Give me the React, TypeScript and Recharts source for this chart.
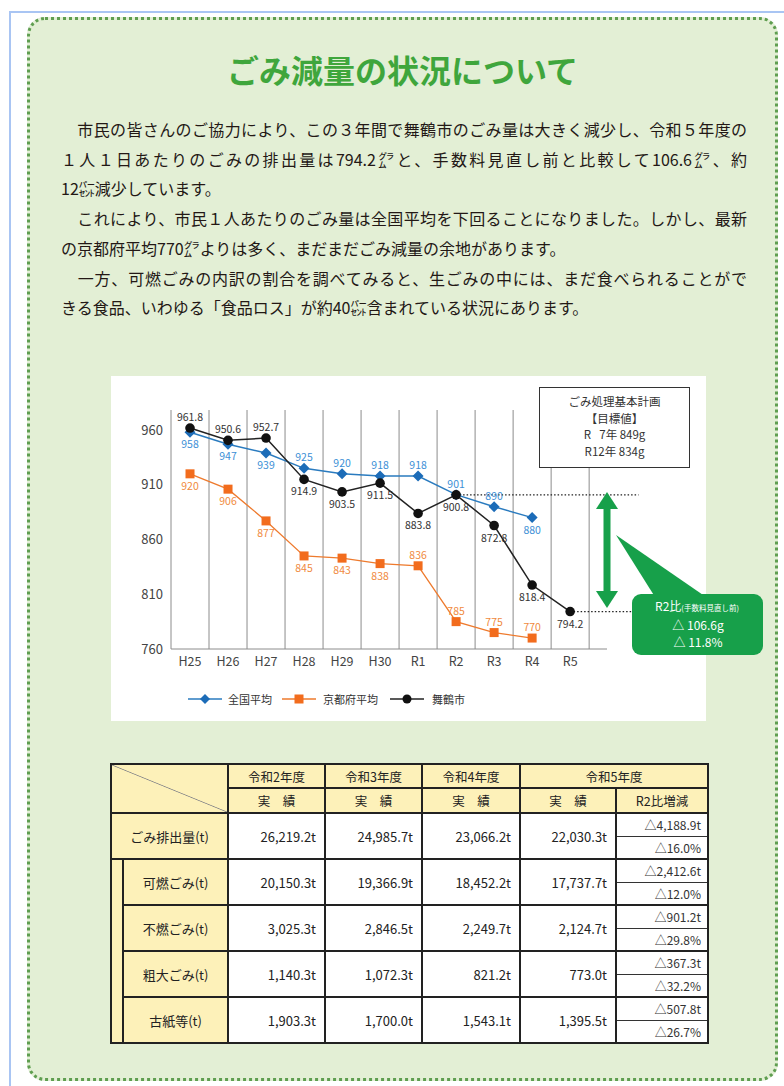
import React from 'react';
import { LineChart, Line, XAxis, YAxis, ReferenceLine, LabelList } from 'recharts';

// ---------- chart data ----------
const categories = ['H25', 'H26', 'H27', 'H28', 'H29', 'H30', 'R1', 'R2', 'R3', 'R4', 'R5'];
const nationalAvg = [958, 947, 939, 925, 920, 918, 918, 901, 890, 880, null];
const kyotoAvg = [920, 906, 877, 845, 843, 838, 836, 785, 775, 770, null];
const maizuruCity = [961.8, 950.6, 952.7, 914.9, 903.5, 911.5, 883.8, 900.8, 872.8, 818.4, 794.2];
const yTicks = [760, 810, 860, 910, 960];
const seriesNames = ['全国平均', '京都府平均', '舞鶴市'];

// label placement (a = above, b = below)
const nationalLabelPos = ['b', 'b', 'b', 'a', 'a', 'a', 'a', 'a', 'a', 'b', 'b'];
const kyotoLabelPos = ['b', 'b', 'b', 'b', 'b', 'b', 'a', 'a', 'a', 'a', 'a'];
const maizuruLabelPos = ['a', 'a', 'a', 'b', 'b', 'b', 'b', 'b', 'b', 'b', 'b'];

// target box text
const targetLines = ['ごみ処理基本計画', '【目標値】', 'R\u2002 7年 849g', 'R12年 834g'];
const calloutTitle = 'R2比';
const calloutSub = '(手数料見直し前)';
const calloutLines = ['△ 106.6g', '△ 11.8%'];

// ---------- table data ----------
const yearHeaders = ['令和2年度', '令和3年度', '令和4年度', '令和5年度'];
const rowLabels = ['ごみ排出量(t)', '可燃ごみ(t)', '不燃ごみ(t)', '粗大ごみ(t)', '古紙等(t)'];
const fy2020 = ['26,219.2t', '20,150.3t', '3,025.3t', '1,140.3t', '1,903.3t'];
const fy2021 = ['24,985.7t', '19,366.9t', '2,846.5t', '1,072.3t', '1,700.0t'];
const fy2022 = ['23,066.2t', '18,452.2t', '2,249.7t', '821.2t', '1,543.1t'];
const fy2023 = ['22,030.3t', '17,737.7t', '2,124.7t', '773.0t', '1,395.5t'];
const diffTons = ['△4,188.9t', '△2,412.6t', '△901.2t', '△367.3t', '△507.8t'];
const diffPct = ['△16.0%', '△12.0%', '△29.8%', '△32.2%', '△26.7%'];

// ---------- text ----------
const title = 'ごみ減量の状況について';
const paragraphLines = [
  '\u3000市民の皆さんのご協力により、この３年間で舞鶴市のごみ量は大きく減少し、令和５年度の',
  '１人１日あたりのごみの排出量は794.2㌘と、手数料見直し前と比較して106.6㌘、約',
  '12㌫減少しています。',
  '\u3000これにより、市民１人あたりのごみ量は全国平均を下回ることになりました。しかし、最新',
  'の京都府平均770㌘よりは多く、まだまだごみ減量の余地があります。',
  '\u3000一方、可燃ごみの内訳の割合を調べてみると、生ごみの中には、まだ食べられることがで',
  'きる食品、いわゆる「食品ロス」が約40㌫含まれている状況にあります。',
];
const justifiedLines = [true, true, false, true, false, true, false];

const FONT = "'Noto Sans CJK JP', 'Noto Sans', sans-serif";
const BLUE = '#2a7bbf';
const ORANGE = '#ee7a2d';
const BLACK = '#222222';

const chartData = categories.map((c, i) => ({
  x: i + 0.5,
  name: c,
  national: nationalAvg[i],
  kyoto: kyotoAvg[i],
  maizuru: maizuruCity[i],
}));
const tickXs = categories.map((_, i) => i + 0.5);
const gridXs = [...categories.map((_, i) => i), categories.length];

const makeLabel = (pos: string[], color: string) => (props: any) => {
  const { x, y, value, index } = props;
  if (value == null || x == null || y == null) return null;
  const above = pos[index] === 'a';
  return (
    <text
      key={`l-${index}`}
      x={x}
      y={above ? y - 7 : y + 16}
      textAnchor="middle"
      fontSize={10.5}
      fontFamily={FONT}
      fill={color}
    >
      {String(value)}
    </text>
  );
};

const DiamondDot = (props: any) => {
  const { cx, cy, index } = props;
  if (cx == null || cy == null || props.value == null) return <g key={`d-${index}`} />;
  const s = 5.5;
  return <polygon key={`d-${index}`} points={`${cx},${cy - s} ${cx + s},${cy} ${cx},${cy + s} ${cx - s},${cy}`} fill="#1c6cb8" />;
};
const SquareDot = (props: any) => {
  const { cx, cy, index } = props;
  if (cx == null || cy == null || props.value == null) return <g key={`s-${index}`} />;
  return <rect key={`s-${index}`} x={cx - 4.5} y={cy - 4.5} width={9} height={9} fill="#f26c1d" />;
};
const CircleDot = (props: any) => {
  const { cx, cy, index } = props;
  if (cx == null || cy == null || props.value == null) return <g key={`c-${index}`} />;
  return <circle key={`c-${index}`} cx={cx} cy={cy} r={4.8} fill="#111" />;
};

const th: React.CSSProperties = {
  border: '2px solid #222',
  background: '#fdf1b9',
  fontSize: 12.5,
  fontWeight: 'normal',
  textAlign: 'center',
  padding: 0,
  color: '#222',
};
const tdVal: React.CSSProperties = {
  border: '2px solid #222',
  background: '#fff',
  fontSize: 13,
  textAlign: 'right',
  paddingRight: 8,
  color: '#222',
};
const tdDiff: React.CSSProperties = {
  borderLeft: '2px solid #222',
  borderRight: '2px solid #222',
  background: '#fff',
  fontSize: 12,
  textAlign: 'right',
  paddingRight: 6,
  color: '#333',
};

function DataTable() {
  const rows: React.ReactNode[] = [];
  rowLabels.forEach((label, k) => {
    rows.push(
      <tr key={`a${k}`} style={{ height: 23 }}>
        {k === 0 ? (
          <td colSpan={2} rowSpan={2} style={{ ...th, fontSize: 13 }}>{label}</td>
        ) : (
          <>
            {k === 1 && <td rowSpan={8} style={{ ...th }} />}
            <td rowSpan={2} style={{ ...th, fontSize: 13 }}>{label}</td>
          </>
        )}
        <td rowSpan={2} style={tdVal}>{fy2020[k]}</td>
        <td rowSpan={2} style={tdVal}>{fy2021[k]}</td>
        <td rowSpan={2} style={tdVal}>{fy2022[k]}</td>
        <td rowSpan={2} style={tdVal}>{fy2023[k]}</td>
        <td style={{ ...tdDiff, borderTop: '2px solid #222', borderBottom: '1px solid #333' }}>{diffTons[k]}</td>
      </tr>
    );
    rows.push(
      <tr key={`b${k}`} style={{ height: 23 }}>
        <td style={{ ...tdDiff, borderBottom: '2px solid #222' }}>{diffPct[k]}</td>
      </tr>
    );
  });
  return (
    <table
      style={{
        position: 'absolute',
        left: 110,
        top: 763,
        width: 597,
        borderCollapse: 'collapse',
        tableLayout: 'fixed',
        fontFamily: FONT,
      }}
    >
      <colgroup>
        <col style={{ width: 12 }} />
        <col style={{ width: 105 }} />
        <col style={{ width: 97 }} />
        <col style={{ width: 97 }} />
        <col style={{ width: 98 }} />
        <col style={{ width: 96 }} />
        <col style={{ width: 92 }} />
      </colgroup>
      <tbody>
        <tr style={{ height: 24 }}>
          <td
            colSpan={2}
            rowSpan={2}
            style={{
              ...th,
              background:
                'linear-gradient(to top right, #fdf1b9 calc(50% - 0.8px), #8a8a8a 50%, #fdf1b9 calc(50% + 0.8px))',
            }}
          />
          {yearHeaders.slice(0, 3).map((y) => (
            <td key={y} style={th}>{y}</td>
          ))}
          <td colSpan={2} style={th}>{yearHeaders[3]}</td>
        </tr>
        <tr style={{ height: 25 }}>
          <td style={th}>実　績</td>
          <td style={th}>実　績</td>
          <td style={th}>実　績</td>
          <td style={th}>実　績</td>
          <td style={th}>R2比増減</td>
        </tr>
        {rows}
      </tbody>
    </table>
  );
}

function Legend() {
  const items = [
    { name: seriesNames[0], color: BLUE, left: 188, textLeft: 228, shape: 'diamond' },
    { name: seriesNames[1], color: ORANGE, left: 282, textLeft: 323, shape: 'square' },
    { name: seriesNames[2], color: BLACK, left: 390, textLeft: 432, shape: 'circle' },
  ];
  return (
    <>
      {items.map((it) => (
        <React.Fragment key={it.name}>
          <svg style={{ position: 'absolute', left: it.left, top: 692 }} width={36} height={14}>
            <line x1={0} y1={7} x2={34} y2={7} stroke={it.color} strokeWidth={1.5} />
            {it.shape === 'diamond' && <polygon points="17,2 22,7 17,12 12,7" fill="#1c6cb8" />}
            {it.shape === 'square' && <rect x={12.5} y={2.5} width={9} height={9} fill="#f26c1d" />}
            {it.shape === 'circle' && <circle cx={17} cy={7} r={4.5} fill="#111" />}
          </svg>
          <div
            style={{
              position: 'absolute',
              left: it.textLeft,
              top: 691,
              fontSize: 11,
              lineHeight: '16px',
              color: '#333',
              whiteSpace: 'nowrap',
            }}
          >
            {it.name}
          </div>
        </React.Fragment>
      ))}
    </>
  );
}

export default function App() {
  return (
    <div
      style={{
        position: 'absolute',
        left: 0,
        top: 0,
        width: 784,
        height: 1086,
        overflow: 'hidden',
        background: '#fff',
        fontFamily: FONT,
      }}
    >
      {/* blue frame */}
      <div
        style={{
          position: 'absolute',
          left: 9,
          top: 11,
          width: 800,
          height: 1100,
          border: '2px solid #a9c5f3',
          boxSizing: 'border-box',
        }}
      />
      {/* green panel */}
      <div
        style={{
          position: 'absolute',
          left: 27,
          top: 17,
          width: 751,
          height: 1064,
          border: '3px dotted #5f9e50',
          borderRadius: 18,
          background: '#e3efd5',
          boxSizing: 'border-box',
        }}
      />
      {/* title */}
      <div
        style={{
          position: 'absolute',
          left: 27,
          top: 47,
          width: 751,
          textAlign: 'center',
          fontSize: 32,
          fontWeight: 'bold',
          lineHeight: '44px',
          color: '#3fa63c',
        }}
      >
        {title}
      </div>
      {/* paragraph */}
      {paragraphLines.map((line, i) => (
        <div
          key={i}
          style={{
            position: 'absolute',
            left: 61,
            top: 114 + i * 29.7,
            width: 686,
            fontSize: 16,
            lineHeight: '30px',
            color: '#231815',
            whiteSpace: 'nowrap',
            textAlign: justifiedLines[i] ? 'justify' : 'left',
            textAlignLast: justifiedLines[i] ? 'justify' : 'left',
          }}
        >
          {line}
        </div>
      ))}

      {/* chart white panel */}
      <div style={{ position: 'absolute', left: 111, top: 376, width: 595, height: 345, background: '#fff' }} />

      <div style={{ position: 'absolute', left: 111, top: 375 }}>
        <LineChart width={660} height={346} data={chartData} margin={{ top: 35, right: 7, left: 0, bottom: 42 }}>
          <XAxis
            type="number"
            dataKey="x"
            domain={[0, 15.6]}
            ticks={tickXs}
            tickFormatter={(v: number) => categories[Math.round(v - 0.5)]}
            axisLine={false}
            tickLine={false}
            height={30}
            allowDataOverflow
            interval={0}
            tick={{ fontSize: 12.5, fill: '#444', fontFamily: FONT }}
          />
          <YAxis
            type="number"
            domain={[760, 978.3]}
            ticks={yTicks}
            axisLine={false}
            tickLine={false}
            width={60}
            allowDataOverflow
            interval={0}
            tick={{ fontSize: 13, fill: '#444', fontFamily: FONT }}
          />
          {gridXs.map((g) => (
            <ReferenceLine key={`g${g}`} x={g} stroke="#8c8c8c" strokeWidth={1} />
          ))}
          <ReferenceLine
            segment={[
              { x: 0, y: 760 },
              { x: 11.47, y: 760 },
            ]}
            stroke="#8c8c8c"
            strokeWidth={1}
            ifOverflow="visible"
          />
          <ReferenceLine
            segment={[
              { x: 7.5, y: maizuruCity[7] },
              { x: 12.3, y: maizuruCity[7] },
            ]}
            stroke="#222"
            strokeWidth={1.3}
            strokeDasharray="1.5 2"
            ifOverflow="visible"
          />
          <ReferenceLine
            segment={[
              { x: 10.5, y: maizuruCity[10] },
              { x: 12.13, y: maizuruCity[10] },
            ]}
            stroke="#222"
            strokeWidth={1.3}
            strokeDasharray="1.5 2"
            ifOverflow="visible"
          />
          <Line
            dataKey="national"
            stroke={BLUE}
            strokeWidth={1.5}
            dot={DiamondDot}
            activeDot={false}
            isAnimationActive={false}
          >
            <LabelList dataKey="national" content={makeLabel(nationalLabelPos, '#3d8fd6')} />
          </Line>
          <Line
            dataKey="kyoto"
            stroke={ORANGE}
            strokeWidth={1.3}
            dot={SquareDot}
            activeDot={false}
            isAnimationActive={false}
          >
            <LabelList dataKey="kyoto" content={makeLabel(kyotoLabelPos, '#f08a40')} />
          </Line>
          <Line
            dataKey="maizuru"
            stroke={BLACK}
            strokeWidth={1.5}
            dot={CircleDot}
            activeDot={false}
            isAnimationActive={false}
          >
            <LabelList dataKey="maizuru" content={makeLabel(maizuruLabelPos, '#333')} />
          </Line>
        </LineChart>
      </div>

      {/* target box */}
      <div
        style={{
          position: 'absolute',
          left: 539,
          top: 387,
          width: 151,
          height: 81,
          border: '1.5px solid #333',
          background: '#fff',
          boxSizing: 'border-box',
          paddingTop: 5,
          textAlign: 'center',
          fontSize: 11.5,
          lineHeight: '16.5px',
          color: '#333',
        }}
      >
        {targetLines.map((t, i) => (
          <div key={i} style={{ whiteSpace: 'pre', height: 16.5 }}>{t}</div>
        ))}
      </div>

      {/* arrow and callout */}
      <svg style={{ position: 'absolute', left: 0, top: 0 }} width={784} height={1086}>
        <rect x={603.5} y={505} width={7} height={90} fill="#17a04a" />
        <polygon points="607,492 596,509 618,509" fill="#17a04a" />
        <polygon points="607,608 596,591 618,591" fill="#17a04a" />
        <polygon points="616,535 655,597 706,597" fill="#17a04a" />
        <rect x={632} y={594} width={131} height={61} rx={9} fill="#17a04a" />
        <text x={697} y={611} textAnchor="middle" fill="#fff" fontFamily={FONT}>
          <tspan fontSize={12}>{calloutTitle}</tspan>
          <tspan fontSize={7.5}>{calloutSub}</tspan>
        </text>
        {calloutLines.map((t, i) => (
          <text key={i} x={698} y={630 + i * 17} textAnchor="middle" fill="#fff" fontSize={12} fontFamily={FONT}>
            {t}
          </text>
        ))}
      </svg>

      <Legend />
      <DataTable />
    </div>
  );
}
